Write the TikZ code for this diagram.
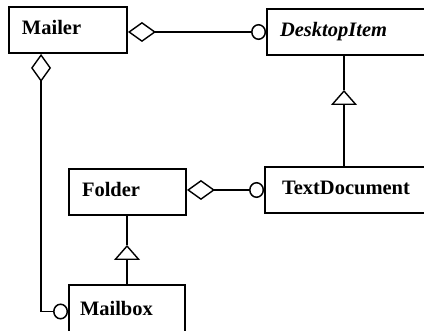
\documentclass[tikz,border=0pt]{standalone}
\usepackage{fontspec}
\setmainfont{Liberation Serif}
\usetikzlibrary{arrows.meta}
\tikzset{
  cls/.style={draw, line width=1.9pt, rectangle, inner ysep=0pt, align=left,
    font=\fontsize{20.5}{24}\selectfont\bfseries, text height=13pt, text depth=4pt,
    minimum height=46pt},
  conn/.style={line width=1.5pt},
  aggtip/.tip={Diamond[open, length=28pt, width=20pt, line width=1.4pt]},
  balltip/.tip={Circle[open, length=15pt, width=16pt, line width=1.5pt]},
  gentip/.tip={Triangle[open, length=15pt, width=26pt, line width=1.4pt]}
}
\begin{document}
\begin{tikzpicture}[x=1pt,y=1pt]
\useasboundingbox (0,0) rectangle (424,-331);
\clip (0,0) rectangle (424,-331);
\node[cls, inner xsep=13pt, text width=92pt] (mailer) at (68,-30) {Mailer};
\node[cls, inner xsep=13pt, text width=147pt, font=\fontsize{20.5}{24}\selectfont\bfseries\itshape] (desktop) at (353.5,-32) {DesktopItem};
\node[cls, inner xsep=17pt, text width=141pt] (textdoc) at (352.5,-190) {TextDocument};
\node[cls, inner xsep=13pt, text width=91pt] (folder) at (127.5,-192) {Folder};
\node[cls, inner xsep=11pt, text width=94pt, minimum height=53pt] (mailbox) at (127,-311.5) {Mailbox};
% aggregation Mailer -> DesktopItem
\draw[conn, aggtip-balltip] (mailer.east |- desktop.west) -- (desktop.west);
% aggregation Folder -> TextDocument
\draw[conn, aggtip-balltip] (folder.east |- textdoc.west) -- (textdoc.west);
% aggregation Mailer -> Mailbox
\draw[conn, aggtip-balltip] ([xshift=33pt]mailer.south west) |- (mailbox.west);
% generalization TextDocument -> DesktopItem
\coordinate (g1) at (344,-90);
\draw[conn, -gentip] (g1 |- textdoc.north) -- (g1);
\draw[conn] (g1) -- (g1 |- desktop.south);
% generalization Mailbox -> Folder
\coordinate (g2) at (127,-245);
\draw[conn, -gentip] (mailbox.north) -- (g2);
\draw[conn] (g2) -- (g2 |- folder.south);
\end{tikzpicture}
\end{document}
